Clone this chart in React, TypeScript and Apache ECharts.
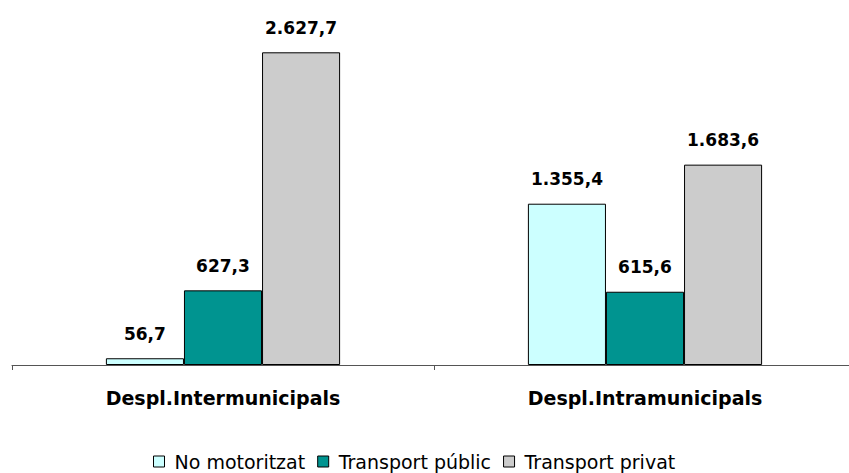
import React, { useEffect, useRef } from "react";
import * as echarts from "echarts";

const categories = ["Despl.Intermunicipals", "Despl.Intramunicipals"];
const seriesNames = ["No motoritzat", "Transport públic", "Transport privat"];
const noMotoritzat = [56.7, 1355.4];
const transportPublic = [627.3, 615.6];
const transportPrivat = [2627.7, 1683.6];
const colors = ["#CCFFFF", "#009490", "#CCCCCC"];

const fmt = (v: number) => {
  const [i, d] = v.toFixed(1).split(".");
  return i.replace(/\B(?=(\d{3})+(?!\d))/g, ".") + "," + d;
};

export default function App() {
  const ref = useRef<HTMLDivElement>(null);
  useEffect(() => {
    const chart = echarts.init(ref.current!, null, { renderer: "svg" });
    const values = [noMotoritzat, transportPublic, transportPrivat];
    chart.setOption({
      animation: false,
      textStyle: { fontFamily: "DejaVu Sans, sans-serif" },
      grid: { left: 12, width: 844, top: 8, bottom: 108 },
      legend: {
        data: seriesNames,
        top: 452,
        left: 153,
        padding: 0,
        itemWidth: 11,
        itemHeight: 11,
        itemGap: 12,
        icon: "rect",
        itemStyle: { borderColor: "#000", borderWidth: 1 },
        textStyle: { fontSize: 19, color: "#000", padding: [0, 0, 0, 5] },
      },
      xAxis: {
        type: "category",
        data: categories,
        axisLine: { lineStyle: { color: "#555", width: 1 } },
        axisTick: { show: true, length: 5, lineStyle: { color: "#555" } },
        axisLabel: { fontSize: 19, fontWeight: "bold", color: "#000", margin: 23 },
      },
      yAxis: {
        type: "value",
        min: 0,
        max: 3000,
        show: false,
        splitLine: { show: false },
      },
      series: seriesNames.map((name, i) => ({
        name,
        type: "bar",
        data: values[i],
        barGap: "0%",
        barCategoryGap: "44.5%",
        itemStyle: { color: colors[i], borderColor: "#000", borderWidth: 1 },
        label: {
          show: true,
          position: "top",
          distance: 16,
          fontSize: 17,
          fontWeight: "bold",
          color: "#000",
          formatter: (p: any) => fmt(p.value),
        },
      })),
    });
    return () => chart.dispose();
  }, []);
  return (
    <div
      style={{
        position: "absolute",
        left: 0,
        top: 0,
        width: 849,
        height: 473,
        overflow: "hidden",
      }}
    >
      <div ref={ref} style={{ width: 860, height: 473 }} />
    </div>
  );
}
